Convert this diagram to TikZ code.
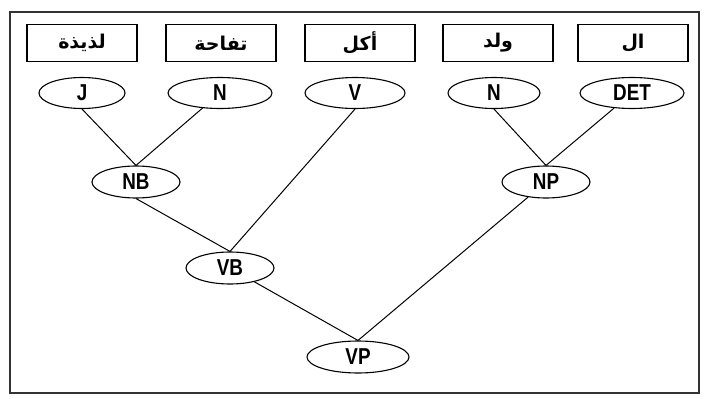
\documentclass[tikz,border=0pt]{standalone}
\usepackage{fontspec}
\setmainfont{Liberation Sans}
\TeXXeTstate=1
\newfontfamily\arabicfont[Script=Arabic]{DejaVu Sans}
\newfontfamily\latfont[FakeStretch=0.82]{Liberation Sans}
\usetikzlibrary{shapes.geometric}
\begin{document}
\begin{tikzpicture}[x=1pt,y=-1pt,
  wordbox/.style={draw,line width=1.1pt,minimum width=110pt,minimum height=37pt,inner sep=0pt,font=\arabicfont\bfseries\fontsize{19}{21}\selectfont},
  tagnode/.style={draw,ellipse,line width=1.1pt,minimum width=100pt,minimum height=31pt,inner sep=0pt,font=\latfont\bfseries\fontsize{23}{24}\selectfont},
  phrase/.style={tagnode,minimum width=88pt,minimum height=32pt},
  link/.style={line width=1pt}]
\useasboundingbox (0,0) rectangle (705,399);
\draw[line width=1.6pt,draw=black!80] (10,12) rectangle (699,393);
% words
\node[wordbox] (w1) at (82,43) {\beginR لذيذة\endR};
\node[wordbox] (w2) at (221,43) {\beginR تفاحة\endR};
\node[wordbox] (w3) at (360,43) {\beginR أكل\endR};
\node[wordbox] (w4) at (498,43) {\beginR ولد\endR};
\node[wordbox] (w5) at (633,43) {\beginR ال\endR};
% tags
\node[tagnode,minimum width=86pt] (J) at (82,93) {J};
\node[tagnode,minimum width=104pt] (N1) at (220,93) {N};
\node[tagnode] (V) at (355,93) {V};
\node[tagnode,minimum width=92pt] (N2) at (494,93) {N};
\node[tagnode,minimum width=104pt] (DET) at (632,93) {DET};
% phrases
\node[phrase] (NB) at (136,182) {NB};
\node[phrase] (NP) at (546,182) {NP};
\node[phrase] (VB) at (230,268) {VB};
\node[phrase,minimum width=102pt] (VP) at (358,357) {VP};
% links
\draw[link] (J.south) -- (NB.north);
\draw[link] (N1) -- (NB.north);
\draw[link] (N2.south) -- (NP.north);
\draw[link] (DET) -- (NP.north);
\draw[link] (V.south) -- (VB.north);
\draw[link] (NB.south) -- (VB.north);
\draw[link] (VB) -- (VP.north);
\draw[link] (NP) -- (VP.north);
\end{tikzpicture}
\end{document}
